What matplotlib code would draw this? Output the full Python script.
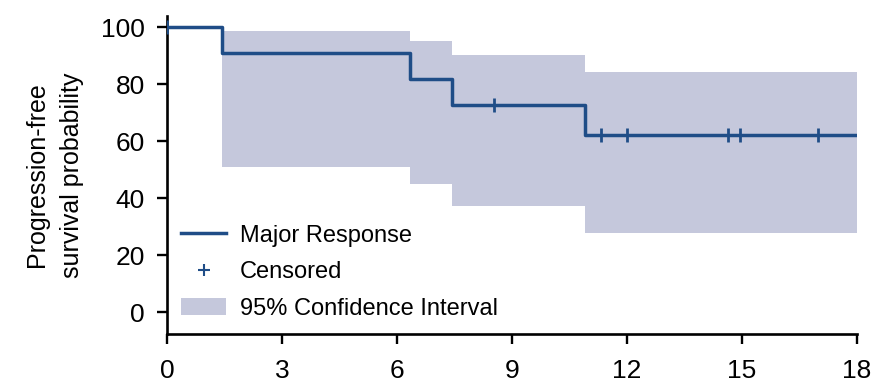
import numpy as np
import matplotlib
matplotlib.use("Agg")
import matplotlib.pyplot as plt
from matplotlib.patches import Patch
from matplotlib.lines import Line2D

# Kaplan-Meier step curve (months, % progression-free)
event_times = [0, 1.43, 6.34, 7.43, 10.9, 18]
survival = [100, 90.9, 81.8, 72.7, 62.3, 62.3]

# 95% CI band
ci_times = [1.43, 6.34, 7.43, 10.9, 18]
ci_upper = [98.6, 95.0, 90.2, 84.1, 84.1]
ci_lower = [51.0, 45.0, 37.2, 27.8, 27.8]

# censored observations
censor_times = [0, 8.53, 11.32, 12.0, 14.64, 14.95, 16.98]

x_ticks = [0, 3, 6, 9, 12, 15, 18]
y_ticks = [0, 20, 40, 60, 80, 100]

line_color = '#1f4d87'
band_color = '#c5c8dc'

plt.rcParams['font.family'] = ['Liberation Sans', 'DejaVu Sans']

fig = plt.figure(figsize=(8.77, 3.89), dpi=100)
ax = fig.add_axes([0.1904, 0.1414, 0.7866, 0.8175])

ax.fill_between(ci_times, ci_lower, ci_upper, step='post', color=band_color,
                linewidth=0, zorder=1)
ax.step(event_times, survival, where='post', color=line_color, linewidth=2.5, zorder=3)

# survival value at each censor time
idx = np.searchsorted(event_times, censor_times, side='right') - 1
censor_surv = np.array(survival)[idx]
ax.plot(censor_times, censor_surv, linestyle='none', marker='|', markersize=10,
        markeredgewidth=2, color=line_color, zorder=4)
ax.plot([0], [100], linestyle='none', marker='_', markersize=10,
        markeredgewidth=2, color=line_color, zorder=4)

ax.set_xlim(0, 18)
ax.set_ylim(-7.7, 103.9)
ax.set_xticks(x_ticks)
ax.set_yticks(y_ticks)

for side in ['top', 'right']:
    ax.spines[side].set_visible(False)
for side in ['left', 'bottom']:
    ax.spines[side].set_linewidth(1.9)
ax.tick_params(axis='y', direction='out', length=7, width=1.7, labelsize=19, pad=9)
ax.tick_params(axis='x', direction='out', length=7, width=1.7, labelsize=19, pad=11)

ax.set_ylabel('Progression-free\nsurvival probability', fontsize=18,
              linespacing=1.6, labelpad=12)

handles = [
    Line2D([], [], color=line_color, linewidth=2.5),
    Line2D([], [], color=line_color, linestyle='none', marker='+', markersize=9,
           markeredgewidth=1.5),
    Patch(facecolor=band_color, edgecolor='none'),
]
labels = ['Major Response', 'Censored', '95% Confidence Interval']
ax.legend(handles, labels, loc='lower left', bbox_to_anchor=(0.0, 0.0), frameon=False,
          fontsize=17, handlelength=1.9, handletextpad=0.6, labelspacing=0.62,
          borderaxespad=0.25, borderpad=0.35)

fig.savefig('out.png', dpi=100)
